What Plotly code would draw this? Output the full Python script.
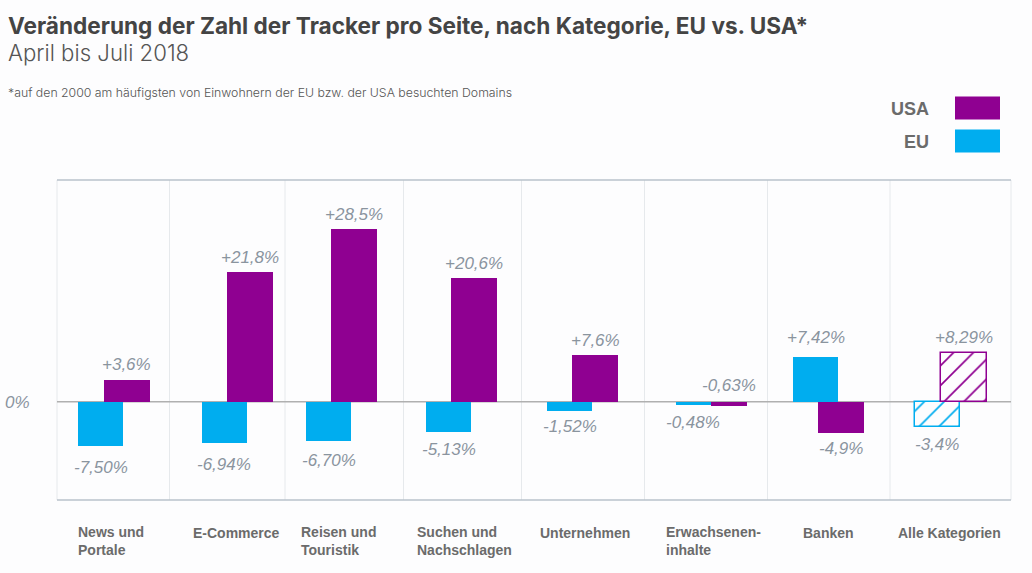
import plotly.graph_objects as go

# --- data ---
categories = ["News und<br>Portale", "E-Commerce", "Reisen und<br>Touristik", "Suchen und<br>Nachschlagen",
              "Unternehmen", "Erwachsenen-<br>inhalte", "Banken", "Alle Kategorien"]
usa_values = [3.7, 21.7, 28.85, 20.65, 7.75, -0.67, -5.15, 8.2]
eu_values = [-7.4, -6.93, -6.5, -5.1, -1.5, -0.55, 7.4, -4.27]
usa_labels = ["+3,6%", "+21,8%", "+28,5%", "+20,6%", "+7,6%", "-0,63%", "-4,9%", "+8,29%"]
eu_labels = ["-7,50%", "-6,94%", "-6,70%", "-5,13%", "-1,52%", "-0,48%", "+7,42%", "-3,4%"]

# --- layout constants (pixels on the 1032x573 page) ---
W, H = 1032, 573
PL, PR, PT, PB = 57, 1011, 180, 500
ZERO_PX, PX_PER_UNIT = 401.8, 6.0
BAND = (PR - PL) / len(categories)
separators_px = [169.5, 285, 403.5, 521.5, 644.5, 767.5, 890]
eu_left_px = [78.3, 201.7, 306.3, 426, 547, 675.7, 793, 914.7]
eu_width_px = [45, 45, 45, 45, 45, 35.5, 45, 45]
usa_left_px = [103.7, 227, 331.3, 451, 572, 711, 818.3, 940.5]
usa_width_px = [46, 46, 46, 46, 46, 35.7, 46, 46]
usa_shift_px = [15, 14, 14, 14.7, 15, 20, -16, 15]
eu_shift_px = [-21, -20.7, -19.5, -17, -16, -17, 20, -17]
label_left_px = [76, 191, 299, 415, 538, 664, 801, 896]
PURPLE, BLUE = "#8f0091", "#00adef"
GREY_TXT, LBL_TXT = "#6b6b6b", "#8a949e"
BG = "#fdfdfe"
TITLE_FONT = "Inter"
n = len(categories)


def offsets(lefts):
    return [(l - (PL + BAND * (i + 0.5))) / BAND for i, l in enumerate(lefts)]


def paper_x(px):
    return (px - PL) / (PR - PL)


fig = go.Figure()
for name, vals, lefts, widths, col in [("EU", eu_values, eu_left_px, eu_width_px, BLUE),
                                       ("USA", usa_values, usa_left_px, usa_width_px, PURPLE)]:
    fig.add_bar(
        name=name, x=categories, y=vals, width=[w / BAND for w in widths], offset=offsets(lefts),
        marker=dict(
            color=col,
            line=dict(color=col, width=[1.5 if i == n - 1 else 0 for i in range(n)]),
            pattern=dict(shape=["/" if i == n - 1 else "" for i in range(n)],
                         bgcolor=BG, size=14, solidity=0.12, fillmode="replace"),
        ),
        showlegend=False, hoverinfo="skip",
    )

shapes = []
for s in separators_px + [PL, PR]:
    shapes.append(dict(type="line", xref="paper", yref="paper", x0=paper_x(s), x1=paper_x(s), y0=0, y1=1,
                       line=dict(color="#e6e9ec", width=1), layer="below"))
for yy in (0, 1):
    shapes.append(dict(type="line", xref="paper", yref="paper", x0=0, x1=1, y0=yy, y1=yy,
                       line=dict(color="#b8c2cb", width=1.5), layer="below"))
shapes.append(dict(type="line", xref="paper", yref="y", x0=0, x1=1, y0=0, y1=0,
                   line=dict(color="#b0b0b0", width=1.5), layer="below"))
# legend swatches
for py, col in [(108, PURPLE), (141, BLUE)]:
    shapes.append(dict(type="rect", xref="paper", yref="paper",
                       x0=paper_x(955), x1=paper_x(1000),
                       y0=(PB - (py + 11.5)) / (PB - PT), y1=(PB - (py - 11.5)) / (PB - PT),
                       fillcolor=col, line=dict(width=0)))

ann = []


def pg(text, x, y, size, color, family, bold=False, italic=False, anchor="left", weight=None):
    f = dict(size=size, color=color, family=family, style="italic" if italic else "normal")
    if weight:
        f["weight"] = weight
    ann.append(dict(text=f"<b>{text}</b>" if bold else text, xref="paper", yref="paper",
                    x=paper_x(x), y=(PB - y) / (PB - PT), xanchor=anchor, yanchor="middle", align="left",
                    showarrow=False, font=f))


pg("Veränderung der Zahl der Tracker pro Seite, nach Kategorie, EU vs. USA*", 6, 25, 22.6, "#444444", TITLE_FONT, bold=True)
pg("April bis Juli 2018", 6, 52, 22.2, "#555555", TITLE_FONT, weight=300)
pg("*auf den 2000 am häufigsten von Einwohnern der EU bzw. der USA besuchten Domains", 6, 92, 12.3, "#555555", TITLE_FONT, weight=300)
pg("USA", 931, 109, 18, GREY_TXT, "Liberation Sans", bold=True, anchor="right")
pg("EU", 931, 142, 18, GREY_TXT, "Liberation Sans", bold=True, anchor="right")
pg("0%", 32, 402, 17, LBL_TXT, "Liberation Sans", italic=True, anchor="right")

for c, left in zip(categories, label_left_px):
    lines = c.count("<br>") + 1
    pg(c, left, 541 if lines == 2 else 533, 14, GREY_TXT, "Liberation Sans", bold=True)

for i in range(n):
    for vals, labs, lefts, widths, shifts in [(eu_values, eu_labels, eu_left_px, eu_width_px, eu_shift_px),
                                              (usa_values, usa_labels, usa_left_px, usa_width_px, usa_shift_px)]:
        ann.append(dict(text=labs[i], x=categories[i], y=vals[i], yref="y", xref="x",
                        xshift=lefts[i] + widths[i] / 2 - (PL + BAND * (i + 0.5)), yshift=shifts[i],
                        xanchor="center", yanchor="middle", showarrow=False,
                        font=dict(size=17, color=LBL_TXT, family="Liberation Sans", style="italic")))

fig.update_layout(
    width=W, height=H, margin=dict(l=PL, r=W - PR, t=PT, b=H - PB),
    paper_bgcolor=BG, plot_bgcolor=BG, barmode="overlay", bargap=0,
    xaxis=dict(type="category", showticklabels=False, showgrid=False, zeroline=False, showline=False, ticks=""),
    yaxis=dict(range=[(ZERO_PX - PB) / PX_PER_UNIT, (ZERO_PX - PT) / PX_PER_UNIT], showticklabels=False,
               showgrid=False, zeroline=False, showline=False, ticks=""),
    shapes=shapes, annotations=ann,
)
fig.write_html("out.html", config=dict(displayModeBar=False),
               post_script="document.body.style.margin='0';document.body.style.background='%s';" % BG)
